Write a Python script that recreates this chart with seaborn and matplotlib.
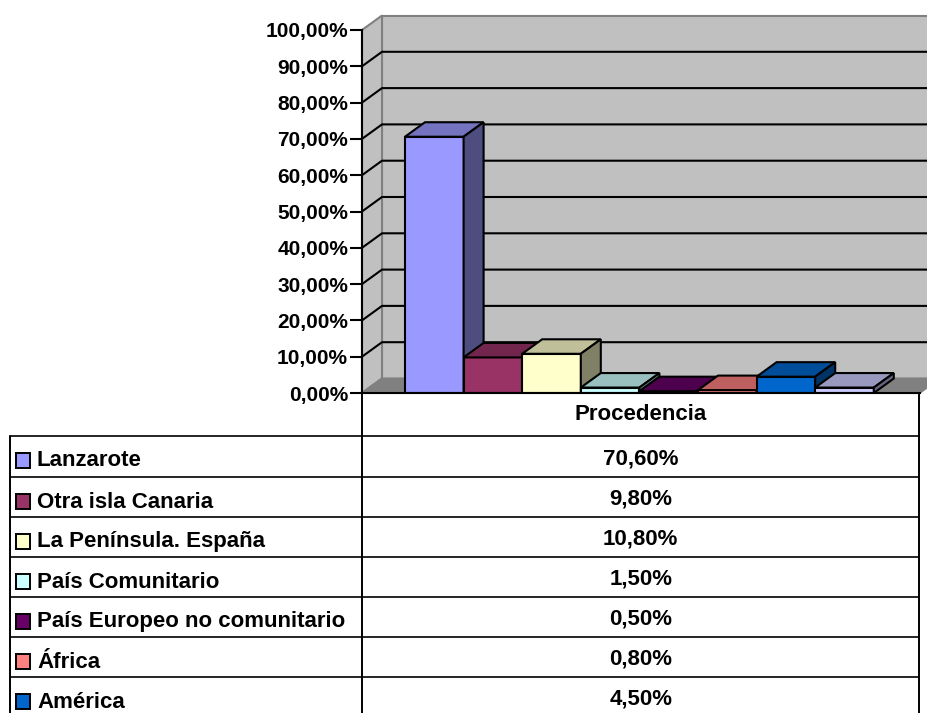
import numpy as np
import pandas as pd
import matplotlib
matplotlib.use('Agg')
import matplotlib.pyplot as plt
from matplotlib.patches import Polygon, Rectangle
from matplotlib.colors import to_rgb
import seaborn as sns

# datos de la tabla (la ultima fila queda cortada en la imagen)
categorias = ['Lanzarote', 'Otra isla Canaria', 'La Península. España', 'País Comunitario',
              'País Europeo no comunitario', 'África', 'América', 'Otros']
valores = [70.6, 9.8, 10.8, 1.5, 0.5, 0.8, 4.5, 1.5]
colores = ['#9999FF', '#993366', '#FFFFCC', '#CCFFFF', '#660066', '#FF8080', '#0066CC', '#CCCCFF']
ticks_y = [0, 10, 20, 30, 40, 50, 60, 70, 80, 90, 100]
titulo_fila = 'Procedencia'

W, H = 928, 713
# plano frontal del grafico, en pixeles
X0, X1, Y0, Y100 = 362, 919.5, 393, 30
BAR_L, BAR_W = 405, 58.6
DX, DY = 20, 14.5
FUENTE = 15
FUENTE_TABLA = 16

sns.set_style('white')
plt.rcParams['font.family'] = ['Liberation Sans', 'DejaVu Sans']
plt.rcParams['font.weight'] = 'bold'
plt.rcParams['text.color'] = 'black'
plt.rcParams['ytick.labelcolor'] = 'black'


def pct(v, dec=2):
    return f'{v:.{dec}f}%'.replace('.', ',')


def tono(color, f):
    return tuple(c * f for c in to_rgb(color))


fig = plt.figure(figsize=(W / 100, H / 100), dpi=100)

# capa de tabla en pixeles
tb = fig.add_axes([0, 0, 1, 1])
tb.set_xlim(0, W)
tb.set_ylim(H, 0)
tb.axis('off')

ax = fig.add_axes([X0 / W, 1 - Y0 / H, (X1 - X0) / W, (Y0 - Y100) / H])
ax.patch.set_alpha(0)

df = pd.DataFrame({'cat': categorias, 'val': valores})
sns.barplot(data=df, x='cat', y='val', hue='cat', order=categorias, hue_order=categorias,
            palette=colores, saturation=1, width=1, legend=False,
            edgecolor='black', linewidth=1.5, ax=ax)

px = 1 / BAR_W
ax.set_xlim(-0.5 - (BAR_L - X0) * px, -0.5 + (X1 - BAR_L) * px)
ax.set_ylim(0, 100)
ax.set_xlabel('')
ax.set_ylabel('')
ax.set_xticks([])
ax.set_yticks(ticks_y)
ax.set_yticklabels([pct(t) for t in ticks_y], fontsize=FUENTE, fontweight='bold', color='black')
ax.tick_params(axis='y', left=True, length=9, width=1.5, color='black', pad=1)
for s in ['top', 'right']:
    ax.spines[s].set_visible(False)
for s in ['left', 'bottom']:
    ax.spines[s].set_color('black')
    ax.spines[s].set_linewidth(1.5)
    ax.spines[s].set_zorder(30)

dx = DX * px
dy = DY * 100 / (Y0 - Y100)
xl, xr = ax.get_xlim()

# paredes y suelo
pared = dict(clip_on=False, linewidth=1.5, edgecolor='#808080')
ax.add_patch(Polygon([(xl + dx, dy), (xr + dx, dy), (xr + dx, 100 + dy), (xl + dx, 100 + dy)],
                     facecolor='#C0C0C0', zorder=0.5, **pared))
ax.add_patch(Polygon([(xl, 0), (xl + dx, dy), (xl + dx, 100 + dy), (xl, 100)],
                     facecolor='#C0C0C0', zorder=0.6, **pared))
ax.add_patch(Polygon([(xl, 0), (xr, 0), (xr + dx, dy), (xl + dx, dy)],
                     facecolor='#808080', zorder=0.7, **pared))
for t in ticks_y[1:-1]:
    ax.plot([xl, xl + dx, xr + dx], [t, t + dy, t + dy], color='black', lw=1.5,
            clip_on=False, zorder=0.8)

# caras superior y lateral de cada barra
for i, (b, c) in enumerate(zip(ax.patches, colores)):
    x0, x1, h = b.get_x(), b.get_x() + b.get_width(), b.get_height()
    b.set_zorder(10 + i)
    ax.add_patch(Polygon([(x0, h), (x1, h), (x1 + dx, h + dy), (x0 + dx, h + dy)],
                         facecolor=tono(c, 0.75), edgecolor='black', lw=1.5,
                         clip_on=False, zorder=10 + i))
    ax.add_patch(Polygon([(x1, 0), (x1 + dx, dy), (x1 + dx, h + dy), (x1, h)],
                         facecolor=tono(c, 0.5), edgecolor='black', lw=1.5,
                         clip_on=False, zorder=10 + i))

# tabla
TB_L, TB_M, TB_R = 10.5, 362, X1
filas_y = [436, 477, 517, 557, 597, 637, 677, 717]
for y in filas_y:
    tb.plot([TB_L, TB_R], [y, y], color='black', lw=1.2, clip_on=True)
tb.plot([TB_M, TB_M], [Y0, H], color='black', lw=1.4)
tb.plot([TB_R, TB_R], [Y0, H], color='black', lw=1.4)
tb.plot([TB_L, TB_L], [filas_y[0], H], color='black', lw=1.4)
tb.text((TB_M + TB_R) / 2, 414, titulo_fila, ha='center', va='center', fontsize=FUENTE_TABLA)

for i in range(7):
    y = filas_y[i]
    yc = y + 24.5
    tb.add_patch(Rectangle((16.5, yc - 7.5), 14, 15, facecolor=colores[i],
                           edgecolor='black', lw=1.4))
    tb.text(37, yc + 0.5, categorias[i], ha='left', va='center', fontsize=FUENTE_TABLA)
    tb.text((TB_M + TB_R) / 2, y + 22.5, pct(valores[i]), ha='center', va='center',
            fontsize=FUENTE_TABLA)

fig.savefig('out.png', dpi=100)
